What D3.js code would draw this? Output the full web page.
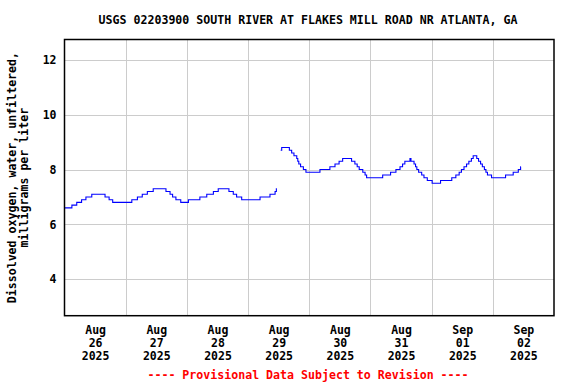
<!DOCTYPE html>
<html>
<head>
<meta charset="utf-8">
<script src="https://cdn.jsdelivr.net/npm/d3@7"></script>
<style>
  body { margin: 0; background: #fff; }
  text { font-family: "DejaVu Sans Mono", "Liberation Mono", monospace; font-weight: bold; }
</style>
</head>
<body>
<div id="chart"></div>
<script>
// hours after Aug 26 2025 00:00 where the reading changes, and the reading (mg/L); null = gap
const hours = [0, 2.9, 4.8, 6.7, 8.4, 10.7, 15.9, 17.5, 18.9, 26.4, 28.6, 30.5, 32.5, 34.8,
  39.8, 41.4, 42.4, 43.7, 45.6, 48.6, 53.1, 55.8, 58.4, 60.3, 64.5, 66.2, 67.5, 69.5,
  76.7, 80.6, 82.6, 83.1, 83.3, 84.0,
  84.8, 85.2, 88.2, 89.1, 90.0, 91.1, 91.5, 91.9, 92.6, 93.7, 94.7, 100.2, 104.1, 106.1,
  107.7, 109.1, 112.6, 113.9, 114.8, 115.6, 117.0, 117.9, 118.5, 124.8, 127.9, 130.0,
  131.6, 132.6, 133.5, 135.5, 135.9, 137.1, 137.7, 138.2, 138.9, 140.1, 141.0, 142.3,
  144.2, 147.5, 151.9, 153.5, 154.8, 155.7, 156.7, 157.7, 158.6, 159.6, 160.3, 161.7,
  162.4, 163.2, 163.9, 164.7, 165.3, 165.9, 167.5, 173.0, 176.0, 178.0, 178.9, 179.0];
const dox = [6.6, 6.7, 6.8, 6.9, 7.0, 7.1, 7.0, 6.9, 6.8, 6.9, 7.0, 7.1, 7.2, 7.3,
  7.2, 7.1, 7.0, 6.9, 6.8, 6.9, 7.0, 7.1, 7.2, 7.3, 7.2, 7.1, 7.0, 6.9,
  7.0, 7.1, 7.2, 7.3, 7.3, null,
  8.7, 8.8, 8.7, 8.6, 8.5, 8.4, 8.3, 8.2, 8.1, 8.0, 7.9, 8.0, 8.1, 8.2,
  8.3, 8.4, 8.3, 8.2, 8.1, 8.0, 7.9, 7.8, 7.7, 7.8, 7.9, 8.0,
  8.1, 8.2, 8.3, 8.4, 8.3, 8.2, 8.1, 8.0, 7.9, 7.8, 7.7, 7.6,
  7.5, 7.6, 7.7, 7.8, 7.9, 8.0, 8.1, 8.2, 8.3, 8.4, 8.5, 8.4,
  8.3, 8.2, 8.1, 8.0, 7.9, 7.8, 7.7, 7.8, 7.9, 8.0, 8.1, 8.1];

const dayMonths = ["Aug", "Aug", "Aug", "Aug", "Aug", "Aug", "Sep", "Sep"];
const dayNums = ["26", "27", "28", "29", "30", "31", "01", "02"];
const dayYears = ["2025", "2025", "2025", "2025", "2025", "2025", "2025", "2025"];
const yTicks = [4, 6, 8, 10, 12];

const title = "USGS 02203900 SOUTH RIVER AT FLAKES MILL ROAD NR ATLANTA, GA";
const yLabel = ["Dissolved oxygen, water, unfiltered,", "milligrams per liter"];
const footer = "---- Provisional Data Subject to Revision ----";

const W = 576, H = 384;
const plot = { left: 64.5, right: 554, top: 39.5, bottom: 315.7 };
const start = Date.UTC(2025, 7, 26);
const HOUR = 3600e3, DAY = 24 * HOUR;

const svg = d3.select("#chart").append("svg")
  .attr("width", W).attr("height", H);

const x = d3.scaleUtc()
  .domain([new Date(start), new Date(start + 8 * DAY)])
  .range([plot.left, plot.right]);
const y = d3.scaleLinear()
  .domain([2.67, 12.74])
  .range([plot.bottom, plot.top]);

const data = hours.map((h, i) => ({ t: new Date(start + h * HOUR), v: dox[i] }));

// grid
const midnights = d3.range(1, 8).map(d => new Date(start + d * DAY));
svg.append("g")
  .attr("transform", `translate(0,${plot.bottom})`)
  .call(d3.axisBottom(x).tickValues(midnights).tickSize(-(plot.bottom - plot.top)).tickFormat(""))
  .call(g => g.select(".domain").remove())
  .call(g => g.selectAll("line").attr("stroke", "#cccccc").attr("shape-rendering", "crispEdges"));

svg.append("g")
  .attr("transform", `translate(${plot.left},0)`)
  .call(d3.axisLeft(y).tickValues(yTicks).tickSize(-(plot.right - plot.left)).tickFormat(""))
  .call(g => g.select(".domain").remove())
  .call(g => g.selectAll("line").attr("stroke", "#cccccc").attr("shape-rendering", "crispEdges"));

// y tick labels
svg.append("g")
  .attr("transform", `translate(${plot.left},0)`)
  .call(d3.axisLeft(y).tickValues(yTicks).tickSize(0).tickPadding(8).tickFormat(d3.format("d")))
  .call(g => g.select(".domain").remove())
  .call(g => g.selectAll("text").attr("fill", "#000").style("font-size", "11.5px")
    .style("font-family", "DejaVu Sans Mono").style("font-weight", "bold"));

// x tick labels at noon
const noons = d3.range(0, 8).map(d => new Date(start + d * DAY + 12 * HOUR));
svg.append("g")
  .attr("transform", `translate(0,${plot.bottom})`)
  .call(d3.axisBottom(x).tickValues(noons).tickSize(0).tickFormat(""))
  .call(g => g.select(".domain").remove())
  .call(g => g.selectAll(".tick text").each(function (d, i) {
    const t = d3.select(this).attr("y", null).attr("dy", null)
      .attr("fill", "#000").style("font-size", "11.5px")
      .style("font-family", "DejaVu Sans Mono").style("font-weight", "bold");
    [dayMonths[i], dayNums[i], dayYears[i]].forEach((s, k) => {
      t.append("tspan").attr("x", 0).attr("y", 18.5 + k * 13).text(s);
    });
  }));

// data line
const line = d3.line()
  .defined(d => d.v !== null)
  .x(d => x(d.t))
  .y(d => y(d.v))
  .curve(d3.curveStepAfter);

svg.append("path")
  .datum(data)
  .attr("fill", "none")
  .attr("stroke", "#0000ff")
  .attr("stroke-width", 1.1)
  .attr("d", line);

// frame
svg.append("rect")
  .attr("x", plot.left).attr("y", plot.top)
  .attr("width", plot.right - plot.left).attr("height", plot.bottom - plot.top)
  .attr("fill", "none").attr("stroke", "#000").attr("stroke-width", 1.5);

// texts
svg.append("text")
  .attr("x", 308).attr("y", 24)
  .attr("text-anchor", "middle")
  .style("font-size", "11.6px")
  .text(title);

const yl = svg.append("text")
  .attr("transform", `translate(0,${(plot.top + plot.bottom) / 2}) rotate(-90)`)
  .attr("text-anchor", "middle")
  .style("font-size", "11.6px");
yLabel.forEach((s, k) => {
  yl.append("tspan").attr("x", 0).attr("y", 16 + k * 12).text(s);
});

svg.append("text")
  .attr("x", 308).attr("y", 379)
  .attr("text-anchor", "middle")
  .attr("fill", "#ff0000")
  .style("font-size", "11.6px")
  .text(footer);
</script>
</body>
</html>
